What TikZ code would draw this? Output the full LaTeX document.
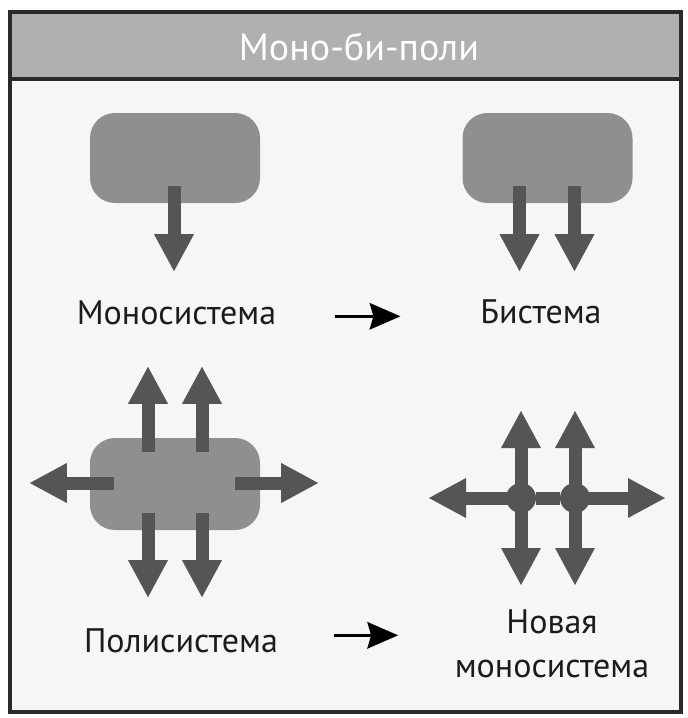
\documentclass[tikz,border=0pt]{standalone}
\usepackage{fontspec}
\setmainfont{PT Sans}
\usetikzlibrary{arrows.meta}
\definecolor{boxgray}{HTML}{8F8F8F}
\definecolor{arrowgray}{HTML}{555555}
\definecolor{headgray}{HTML}{B1AFAF}
\definecolor{paper}{HTML}{F6F6F6}
\definecolor{framegray}{HTML}{2A2A2A}
\definecolor{ink}{HTML}{1C1C1C}
\begin{document}
\begin{tikzpicture}[x=1pt,y=-1pt,
    box/.style={fill=boxgray,rounded corners=25pt,inner sep=0pt,minimum width=170pt,minimum height=90pt},
    fat/.style={draw=arrowgray,line width=13pt,-{Triangle[width=40pt,length=37pt,line width=0pt]}},
    shaft/.style={draw=arrowgray,line width=13pt},
    joint/.style={circle,fill=arrowgray,inner sep=0pt,minimum size=30pt},
    lbl/.style={font=\fontsize{34}{44}\selectfont,text=ink,inner sep=0pt},
    trans/.style={draw=black,line width=2.8pt,-{Stealth[length=31pt,width=27pt,inset=4pt,line width=0pt]}}]
    \useasboundingbox (0,0) rectangle (688,718);
    % frame and title
    \fill[paper] (10,79) rectangle (681,712);
    \fill[headgray] (10,12) rectangle (681,79);
    \draw[framegray,line width=3.5pt] (10,79) -- (681,79);
    \draw[framegray,line width=3.5pt] (10,12) rectangle (681,712);
    \node[lbl,anchor=base,text=white,font=\fontsize{38}{44}\selectfont] (title) at (359,60) {Моно-би-поли};
    % mono
    \node[box] (mono) at (175,158) {};
    \draw[fat] ([xshift=-1pt,yshift=17pt]mono.south) -- ++(0,85);
    \node[lbl,anchor=base] (monolbl) at (176.5,324) {Моносистема};
    % bi
    \node[box] (bi) at (547.5,158) {};
    \foreach \dx in {-28,27}
        \draw[fat] ([xshift=\dx pt,yshift=17pt]bi.south) -- ++(0,85);
    \node[lbl,anchor=base] (bilbl) at (541,323) {Бистема};
    \draw[trans] ([xshift=59pt,yshift=-4pt]monolbl.east) -- ++(65,0);
    % poly
    \node[box,minimum height=92pt] (poly) at (175,484) {};
    \foreach \dx in {-27,27}{
        \draw[fat] ([xshift=\dx pt,yshift=-14pt]poly.north) -- ++(0,-85);
        \draw[fat] ([xshift=\dx pt,yshift=17pt]poly.south) -- ++(0,84);
    }
    \draw[fat] ([xshift=24pt,yshift=1pt]poly.west) -- ++(-84,0);
    \draw[fat] ([xshift=-25pt,yshift=1pt]poly.east) -- ++(83,0);
    \node[lbl,anchor=base] (polylbl) at (181,652) {Полисистема};
    % new mono
    \node[joint] (j1) at (521,498) {};
    \node[joint] (j2) at (575,498) {};
    \draw[shaft] (j1) -- (j2);
    \draw[fat] (j1.center) -- ++(-92,0);
    \draw[fat] (j2.center) -- ++(90,0);
    \foreach \j in {j1,j2}{
        \draw[fat] (\j.center) -- ++(0,-87);
        \draw[fat] (\j.center) -- ++(0,87);
    }
    \node[lbl,anchor=base,align=center] (newlbl) at (552,677) {Новая\\моносистема};
    \draw[trans] ([xshift=56pt,yshift=5pt]polylbl.east) -- ++(64,0);
\end{tikzpicture}
\end{document}
